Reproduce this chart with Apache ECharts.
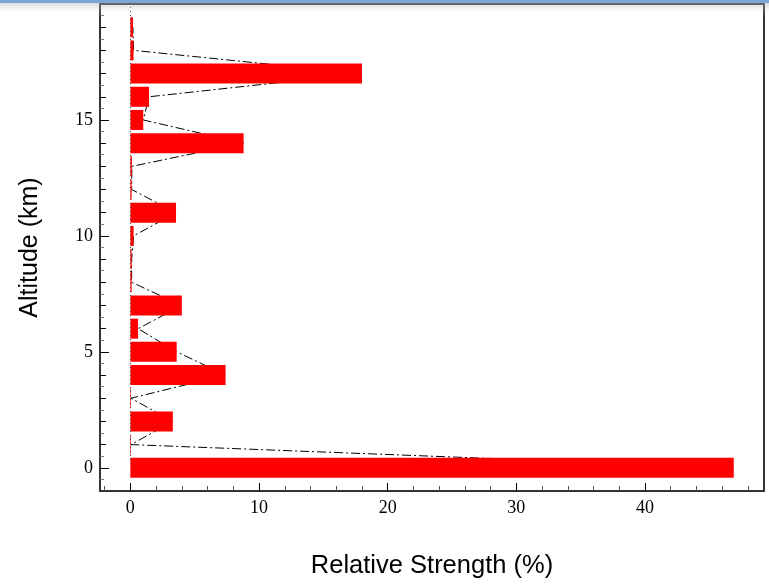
<!DOCTYPE html>
<html>
<head>
<meta charset="utf-8">
<script src="https://cdn.jsdelivr.net/npm/echarts@6/dist/echarts.min.js"></script>
<style>html,body{margin:0;padding:0;background:#fff}#c{width:769px;height:584px}</style>
</head>
<body>
<div id="c"></div>
<script>
// Data
const altitudes = [0,1,2,3,4,5,6,7,8,9,10,11,12,13,14,15,16,17,18,19];
const strength  = [46.9,0.05,3.3,0.05,7.4,3.6,0.6,4.0,0.1,0.1,0.25,3.55,0.1,0.12,8.8,1.0,1.45,18.0,0.25,0.2];
const yCategories = ['-1','0','1','2','3','4','5','6','7','8','9','10','11','12','13','14','15','16','17','18','19','20'];
const xMajorTicks = [0,10,20,30,40];
const xMinorTicks = [-2,2,4,6,8,12,14,16,18,22,24,26,28,32,34,36,38,42,44,46,48];
const yMajorTicks = [0,5,10,15];
const yIntTicks = [1,2,3,4,6,7,8,9,11,12,13,14,16,17,18,19];
const yHalfTicks = [-0.5,0.5,1.5,2.5,3.5,4.5,5.5,6.5,7.5,8.5,9.5,10.5,11.5,12.5,13.5,14.5,15.5,16.5,17.5,18.5,19.5];

const barData = altitudes.map((a,i)=>[strength[i], String(a)]);
const lineData = altitudes.map((a,i)=>[strength[i], String(a)]);

const XMIN = -2.36, XMAX = 49.25, YMIN = -1, YMAX = 20;
const serif = '"Liberation Serif", "DejaVu Serif", serif';
const sans = '"Liberation Sans", Arial, sans-serif';

const chart = echarts.init(document.getElementById('c'), null, {renderer:'canvas'});
chart.setOption({
  animation: false,
  backgroundColor: '#fff',
  grid: {left: 100, right: 5, top: 4, bottom: 93, show: true, borderColor: '#333', borderWidth: 2, containLabel: false},
  xAxis: [
    {type:'value', min:XMIN, max:XMAX, position:'bottom',
     name:'Relative Strength (%)', nameLocation:'middle', nameGap:62,
     nameTextStyle:{fontFamily:sans, fontSize:25.5, color:'#000'},
     axisLine:{show:true, onZero:false, lineStyle:{color:'#333', width:2}},
     axisTick:{show:true, inside:true, length:8, customValues:xMajorTicks, lineStyle:{color:'#000', width:1}},
     axisLabel:{show:true, customValues:xMajorTicks, margin:8, fontFamily:serif, fontSize:18, color:'#000'},
     splitLine:{show:false}},
    {type:'value', min:XMIN, max:XMAX, position:'bottom',
     axisLine:{show:false, onZero:false},
     axisTick:{show:true, inside:true, length:5, customValues:xMinorTicks, lineStyle:{color:'#555', width:1}},
     axisLabel:{show:false}, splitLine:{show:false}}
  ],
  yAxis: [
    {type:'category', data:yCategories, boundaryGap:false, show:false},
    {type:'value', min:YMIN, max:YMAX, position:'left',
     name:'Altitude (km)', nameLocation:'middle', nameGap:57,
     nameTextStyle:{fontFamily:sans, fontSize:25, color:'#000'},
     axisLine:{show:true, onZero:false, lineStyle:{color:'#333', width:2}},
     axisTick:{show:true, inside:true, length:9, customValues:yMajorTicks, lineStyle:{color:'#000', width:1}},
     axisLabel:{show:true, customValues:yMajorTicks, margin:7, fontFamily:serif, fontSize:18, color:'#000'},
     splitLine:{show:false}},
    {type:'value', min:YMIN, max:YMAX, position:'left',
     axisLine:{show:false, onZero:false},
     axisTick:{show:true, inside:true, length:6, customValues:yIntTicks, lineStyle:{color:'#000', width:1}},
     axisLabel:{show:false}, splitLine:{show:false}},
    {type:'value', min:YMIN, max:YMAX, position:'left',
     axisLine:{show:false, onZero:false},
     axisTick:{show:true, inside:true, length:4, customValues:yHalfTicks, lineStyle:{color:'#777', width:1}},
     axisLabel:{show:false}, splitLine:{show:false}}
  ],
  series: [
    {type:'line', xAxisIndex:0, yAxisIndex:0, data:lineData, z:1, symbol:'none',
     lineStyle:{color:'#000', width:1, type:[9,3,2,3]}},
    {type:'bar', xAxisIndex:0, yAxisIndex:0, data:barData, z:2, barWidth:20,
     itemStyle:{color:'#ff0000'},
     markLine:{silent:true, symbol:'none', label:{show:false},
       lineStyle:{color:'#444', width:1, type:[1,3]},
       data:[[{coord:[0,'0'], y:460}, {coord:[0,'20']}]]}}
  ],
  graphic: [
    {type:'rect', left:0, top:0, z:100, shape:{width:769, height:16},
     style:{fill:new echarts.graphic.LinearGradient(0,0,0,1,[
       {offset:0, color:'rgba(150,150,150,0.55)'},
       {offset:1, color:'rgba(255,255,255,0)'}])}},
    {type:'rect', left:0, top:0, z:101, shape:{width:769, height:3},
     style:{fill:'#79a6d8'}}
  ]
});
</script>
</body>
</html>
